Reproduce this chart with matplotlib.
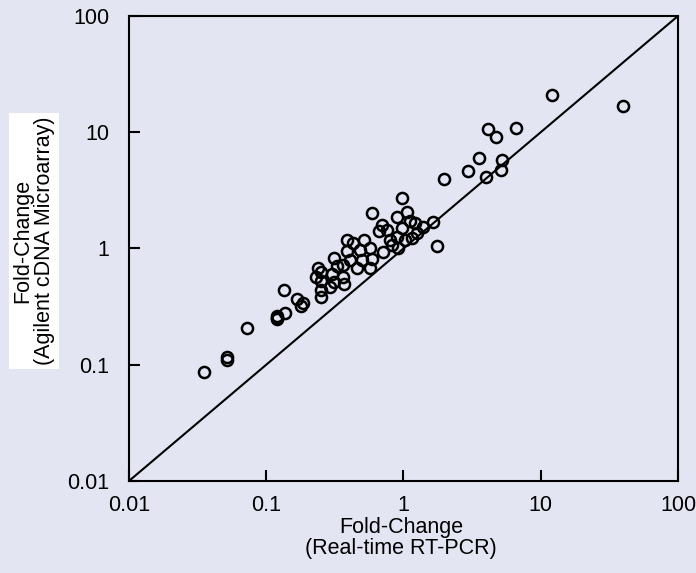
import numpy as np
import matplotlib.pyplot as plt

# --- DATA ---
# Real-time RT-PCR fold-change (x) vs Agilent cDNA microarray fold-change (y)
rtpcr = [0.035, 0.052, 0.052, 0.072, 0.12, 0.12, 0.12, 0.137, 0.135, 0.167, 0.18, 0.185,
         0.24, 0.25, 0.23, 0.25, 0.29, 0.25, 0.25,
         0.31, 0.33, 0.36, 0.30, 0.37, 0.31,
         0.39, 0.39, 0.41, 0.46, 0.36, 0.43, 0.48, 0.50,
         0.52, 0.57, 0.59, 0.57, 0.59,
         0.70, 0.66, 0.76, 0.90, 1.06, 1.12, 1.21, 1.39, 1.25, 1.16, 1.02,
         0.90, 0.83, 0.91, 0.71, 0.80, 0.98, 0.97, 1.65, 1.75,
         1.97, 2.95, 4.0, 3.55, 5.2, 5.1, 4.1, 4.7, 6.6, 12.1, 40.0]
microarray = [0.087, 0.117, 0.110, 0.207, 0.252, 0.245, 0.26, 0.28, 0.44, 0.37, 0.32, 0.34,
              0.68, 0.63, 0.57, 0.52, 0.47, 0.44, 0.38,
              0.83, 0.70, 0.57, 0.60, 0.49, 0.51,
              1.18, 0.95, 0.80, 0.68, 0.72, 1.12, 0.97, 0.80,
              1.18, 1.00, 0.82, 0.68, 2.02,
              1.59, 1.40, 1.45, 1.85, 2.05, 1.73, 1.65, 1.52, 1.35, 1.22, 1.18,
              1.25, 1.07, 1.00, 0.93, 1.18, 1.50, 2.70, 1.70, 1.05,
              3.96, 4.6, 4.1, 6.0, 5.8, 4.7, 10.7, 9.1, 10.9, 21.0, 16.8]

x_ticks = [0.01, 0.1, 1, 10, 100]
tick_labels = ["0.01", "0.1", "1", "10", "100"]

bg = "#e3e6f2"
plt.rcParams['font.family'] = ['Liberation Sans', 'DejaVu Sans']

fig = plt.figure(figsize=(6.96, 5.73), dpi=100, facecolor=bg)
ax = fig.add_axes([0.1853, 0.1606, 0.7888, 0.8115])
ax.set_facecolor(bg)

# identity line
ax.plot([0.01, 100], [0.01, 100], color="black", lw=1.5)

ax.plot(rtpcr, microarray, linestyle="none", marker="o", markersize=8,
        markerfacecolor="none", markeredgecolor="black", markeredgewidth=1.8)

ax.set_xscale("log")
ax.set_yscale("log")
ax.set_xlim(0.01, 100)
ax.set_ylim(0.01, 100)

ax.set_xticks(x_ticks)
ax.set_xticklabels(tick_labels)
ax.set_yticks(x_ticks)
ax.set_yticklabels(tick_labels)
ax.minorticks_off()
ax.tick_params(axis="x", direction="in", length=8, width=1.5, labelsize=15.5, pad=10)
ax.tick_params(axis="y", direction="in", length=8, width=1.5, labelsize=15.5, pad=14)

for s in ax.spines.values():
    s.set_linewidth(1.5)

fig.text(401 / 696, 1 - 538 / 573, "Fold-Change\n(Real-time RT-PCR)",
         ha="center", va="center", fontsize=15.5, linespacing=1.0)
fig.text(34 / 696, 1 - 241 / 573, "Fold-Change\n(Agilent cDNA Microarray)",
         ha="center", va="center", rotation=90, fontsize=15.5, linespacing=1.05,
         bbox=dict(facecolor="white", edgecolor="none", pad=3))

fig.savefig("out.png", dpi=100, facecolor=bg)
